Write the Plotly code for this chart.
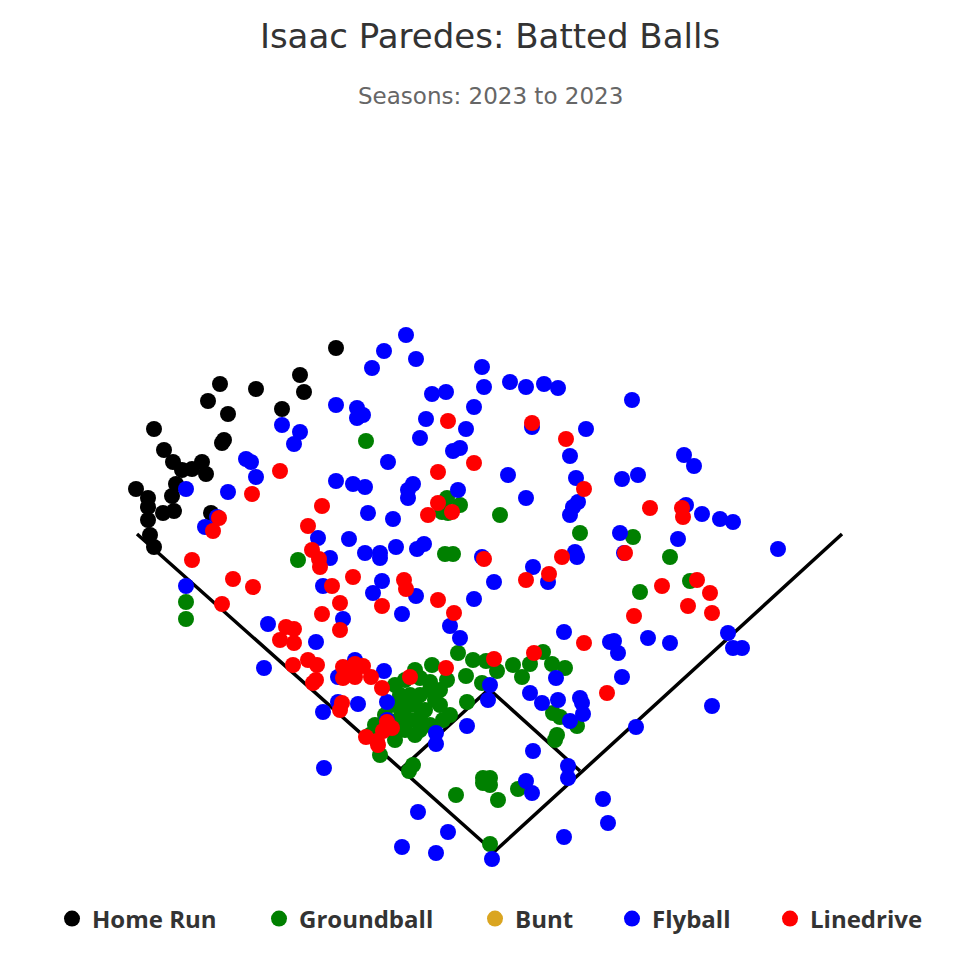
import plotly.graph_objects as go

# hit coordinates (hc_x, hc_y), screen style: y grows toward home plate
hr_x = [336, 300, 304, 282, 220, 256, 208, 228, 154, 224, 222, 164, 173, 182,
        192, 202, 206, 176, 136, 172, 148, 148, 163, 174, 211, 148, 150, 154]
hr_y = [348, 375, 392, 409, 384, 389, 401, 414, 429, 440, 443, 450, 462, 470,
        469, 462, 474, 484, 489, 496, 498, 507, 513, 511, 513, 520, 535, 547]

gb_x = [366, 447, 460, 500, 442, 448, 580, 445, 453, 298, 186, 186, 633, 670,
        640, 690, 458, 473, 486, 497, 513, 530, 543, 552, 565, 522, 466, 482,
        467, 415, 432, 447, 430, 450, 443, 413, 409, 380, 420, 483, 490, 483,
        490, 456, 498, 518, 557, 555, 553, 560, 577, 490,
        395, 405, 420, 430, 440, 400, 410, 420, 395, 405, 415, 425, 435, 400,
        410, 420, 390, 405, 415, 430, 385, 375, 370, 395, 440]
gb_y = [441, 498, 505, 515, 512, 513, 533, 554, 554, 560, 602, 619, 537, 557,
        592, 581, 653, 660, 661, 671, 665, 664, 652, 664, 668, 677, 676, 683,
        702, 670, 665, 680, 682, 715, 720, 765, 771, 755, 730, 778, 778, 783,
        785, 795, 800, 789, 735, 740, 713, 717, 726, 844,
        685, 680, 678, 690, 690, 695, 695, 695, 705, 708, 705, 710, 700, 718,
        720, 718, 728, 730, 735, 725, 715, 725, 735, 740, 705]

bunt_x = []
bunt_y = []

fb_x = [336, 357, 363, 357, 282, 300, 294, 246, 251, 256, 186, 228, 336, 353,
        365, 368, 217, 406, 384, 416, 372, 482, 510, 526, 544, 558, 484, 432,
        446, 474, 426, 466, 532, 586, 420, 453, 460, 570, 388, 508, 576, 413,
        408, 408, 458, 526, 578, 573, 570, 393, 632, 684, 694, 622, 638, 686,
        702, 720, 733, 205, 186, 268, 318, 330, 349, 365, 323, 343, 316, 264,
        355, 338, 358, 338, 323, 380, 380, 396, 417, 424, 482, 533, 575, 577,
        548, 494, 382, 373, 416, 474, 402, 450, 460, 564, 610, 384, 490, 488,
        556, 530, 542, 558, 580, 582, 583, 387, 620, 678, 778, 624, 614, 618,
        648, 670, 728, 733, 742, 622, 712, 570, 467, 436, 436, 533, 568, 568,
        526, 532, 418, 448, 402, 436, 492, 564, 603, 608, 636, 324, 387]
fb_y = [405, 408, 415, 418, 425, 432, 444, 459, 462, 477, 489, 492, 481, 484,
        487, 513, 517, 335, 351, 359, 368, 367, 382, 387, 384, 388, 387, 394,
        392, 407, 419, 429, 427, 429, 438, 451, 448, 456, 462, 475, 478, 484,
        490, 498, 490, 498, 502, 507, 515, 519, 400, 455, 466, 479, 475, 505,
        514, 519, 522, 527, 586, 624, 538, 558, 539, 553, 586, 619, 642, 668,
        660, 677, 704, 702, 712, 553, 558, 547, 549, 544, 557, 567, 552, 557,
        582, 582, 581, 593, 596, 599, 614, 626, 638, 632, 642, 671, 685, 700,
        678, 693, 703, 700, 698, 703, 714, 702, 533, 539, 549, 553, 641, 653,
        638, 643, 633, 648, 648, 677, 706, 721, 726, 733, 744, 751, 766, 778,
        781, 793, 812, 832, 847, 853, 859, 837, 799, 823, 727, 768, 720]

ld_x = [280, 252, 322, 219, 308, 213, 448, 532, 566, 474, 438, 584, 438, 452,
        428, 650, 682, 683, 192, 233, 253, 222, 312, 319, 320, 353, 332, 340,
        322, 340, 286, 294, 280, 294, 293, 308, 317, 316, 313, 343, 355, 363,
        350, 343, 355, 371, 342, 484, 562, 549, 526, 404, 406, 438, 454, 382,
        584, 534, 494, 446, 410, 382, 607, 625, 662, 697, 710, 688, 712, 634,
        340, 387, 392, 383, 366, 377, 378]
ld_y = [471, 494, 506, 518, 526, 531, 421, 423, 439, 463, 472, 489, 503, 512,
        515, 508, 508, 517, 560, 579, 587, 604, 550, 559, 567, 577, 586, 603,
        614, 630, 627, 629, 640, 643, 665, 660, 665, 680, 683, 667, 664, 666,
        673, 678, 677, 677, 703, 559, 557, 574, 580, 580, 589, 600, 613, 606,
        643, 653, 659, 668, 677, 688, 693, 553, 586, 580, 593, 606, 613, 616,
        710, 722, 728, 731, 737, 741, 745]

# field outline: left foul line, home, right foul line; then the infield
foul_x = [137, 494, 842]
foul_y = [534, 852, 534]
infield_x = [400, 489, 580]
infield_y = [770, 689, 771]

series = [
    ("Home Run", hr_x, hr_y, "black"),
    ("Groundball", gb_x, gb_y, "green"),
    ("Bunt", bunt_x, bunt_y, "goldenrod"),
    ("Flyball", fb_x, fb_y, "blue"),
    ("Linedrive", ld_x, ld_y, "red"),
]

# one small legend per entry so the spacing follows the reference
legend_left = [52, 259, 475, 612, 770]
FIG_SIZE = 964  # page has an 8px body margin

fig = go.Figure()

for xs, ys in [(foul_x, foul_y), (infield_x, infield_y)]:
    fig.add_trace(go.Scatter(
        x=xs, y=ys, mode="lines", showlegend=False, hoverinfo="skip",
        line=dict(color="black", width=3.5),
    ))

legend_font = dict(family="Open Sans", size=24, color="#333333", weight="bold")
legends = {}
for i, (name, xs, ys, color) in enumerate(series):
    key = "legend" if i == 0 else f"legend{i + 1}"
    # an empty series still needs a legend entry
    fig.add_trace(go.Scatter(
        x=xs or [None], y=ys or [None], mode="markers", name=name,
        legend=key,
        marker=dict(color=color, size=16, line=dict(width=0)),
    ))
    legends[key] = dict(
        orientation="h", x=(legend_left[i] - 8) / FIG_SIZE, xanchor="left",
        y=0.055, yanchor="middle", font=legend_font, itemwidth=30,
        bgcolor="rgba(0,0,0,0)",
    )

fig.update_layout(
    width=FIG_SIZE,
    height=FIG_SIZE,
    margin=dict(l=0, r=0, t=0, b=0),
    plot_bgcolor="white",
    paper_bgcolor="white",
    title=dict(
        text="Isaac Paredes: Batted Balls",
        x=0.5, xanchor="center", y=0.971, yanchor="middle",
        font=dict(family="DejaVu Sans", size=34, color="#333333"),
    ),
    annotations=[dict(
        text="Seasons: 2023 to 2023", xref="paper", yref="paper",
        x=0.5, y=0.909, xanchor="center", yanchor="middle", showarrow=False,
        font=dict(family="DejaVu Sans", size=23, color="#666666"),
    )],
    xaxis=dict(range=[8, 972], visible=False, fixedrange=True),
    yaxis=dict(range=[972, 8], visible=False, fixedrange=True),
    **legends,
)

fig.write_html("out.html")
